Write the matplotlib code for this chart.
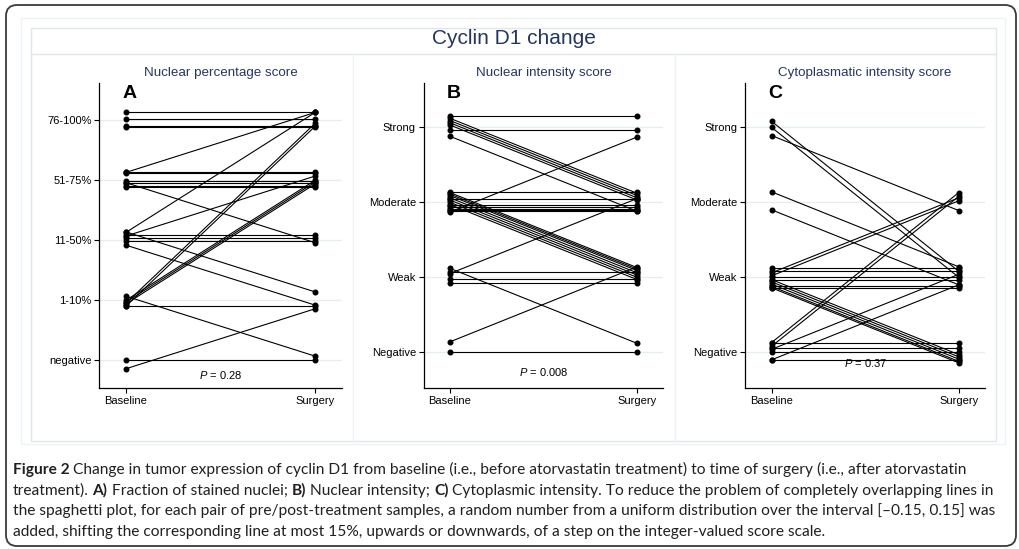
import matplotlib
matplotlib.use("Agg")
import matplotlib.pyplot as plt
from matplotlib import font_manager
from matplotlib.patches import FancyBboxPatch, Rectangle
from matplotlib.lines import Line2D
from matplotlib.transforms import IdentityTransform

# Cyclin D1 score pairs: baseline score, surgery score, jitter
a_base = [4, 4, 4, 4, 3, 3, 3, 3, 3, 3, 3, 3, 2, 2, 2, 2, 2, 2, 2, 1, 1, 1, 1, 1, 1, 1, 0, 0]
a_surg = [4, 4, 4, 4, 4, 3, 3, 3, 3, 3, 3, 2, 4, 3, 2, 2, 2, 1, 1, 4, 4, 3, 3, 3, 1, 0, 0, 1]
a_jit = [0.14, 0.02, -0.09, -0.11, 0.13, 0.14, 0.12, -0.01, -0.05, -0.09, -0.12, -0.04,
         0.13, 0.07, 0.09, 0.04, -0.01, 0.14, -0.08, -0.05, -0.10, 0.00, -0.03, -0.06,
         -0.10, 0.07, 0.00, -0.14]

b_base = [3, 3, 3, 3, 3, 3, 3, 2, 2, 2, 2, 2, 2, 2, 2, 2, 2, 2, 2, 2, 2, 2, 1, 1, 1, 1, 1, 0, 0]
b_surg = [3, 3, 2, 2, 2, 2, 2, 3, 2, 2, 2, 2, 2, 2, 2, 1, 1, 1, 1, 1, 1, 1, 2, 1, 1, 1, 0, 1, 0]
b_jit = [0.15, -0.03, 0.12, 0.09, 0.06, 0.03, -0.12, -0.13, 0.14, 0.04, -0.03, -0.06,
         -0.09, -0.10, -0.12, 0.13, 0.11, 0.09, 0.06, 0.03, 0.00, -0.03, 0.05, 0.07,
         -0.02, -0.08, 0.12, 0.14, 0.00]

c_base = [3, 3, 3, 2, 2, 1, 1, 1, 1, 1, 1, 1, 1, 1, 1, 1, 1, 1, 0, 0, 0, 0, 0, 0, 0, 0]
c_surg = [1, 1, 2, 1, 1, 2, 2, 0, 0, 0, 0, 0, 1, 1, 1, 1, 1, 1, 2, 2, 1, 1, 0, 0, 0, 0]
c_jit = [0.08, 0.00, -0.11, 0.14, -0.10, 0.06, 0.02, -0.03, -0.06, -0.09, -0.12, -0.14,
         0.12, 0.09, 0.00, -0.04, -0.12, -0.14, 0.13, 0.08, 0.04, -0.10, 0.13, 0.06,
         0.00, -0.10]

pct_labels = ["negative", "1-10%", "11-50%", "51-75%", "76-100%"]
int_labels = ["Negative", "Weak", "Moderate", "Strong"]
time_labels = ["Baseline", "Surgery"]
subtitles = ["Nuclear percentage score", "Nuclear intensity score", "Cytoplasmatic intensity score"]
letters = ["A", "B", "C"]
p_values = ["0.28", "0.008", "0.37"]

caption = [
    [("Figure 2", "bold"), ("Change in tumor expression of cyclin D1 from baseline (i.e., before atorvastatin "
                            "treatment) to time of surgery (i.e., after atorvastatin", "normal")],
    [("treatment).", "normal"), ("A)", "bold"), ("Fraction of stained nuclei;", "normal"), ("B)", "bold"),
     ("Nuclear intensity;", "normal"), ("C)", "bold"),
     ("Cytoplasmic intensity. To reduce the problem of completely overlapping lines in", "normal")],
    [("the spaghetti plot, for each pair of pre/post-treatment samples, a random number from a uniform "
      "distribution over the interval [\u20130.15, 0.15] was", "normal")],
    [("added, shifting the corresponding line at most 15%, upwards or downwards, of a step on the "
      "integer-valued score scale.", "normal")],
]

W, H = 1019, 549
plt.rcParams["font.family"] = ["Liberation Sans", "DejaVu Sans"]
plt.rcParams["mathtext.fontset"] = "custom"
plt.rcParams["mathtext.it"] = "Liberation Sans:italic"
plt.rcParams["mathtext.rm"] = "Liberation Sans"

# the caption uses a condensed face; take the narrow Liberation one when it is there
installed = {f.name for f in font_manager.fontManager.ttflist}
cap_font = ["Liberation Sans Narrow", "DejaVu Sans"] if "Liberation Sans Narrow" in installed else ["Lato", "DejaVu Sans"]

fig = plt.figure(figsize=(W / 100, H / 100), dpi=100)
fig.patch.set_facecolor("white")


def fx(x):
    return x / W


def fy(y):
    return 1 - y / H


def box(x0, y0, x1, y1, color, lw=1.0):
    fig.patches.append(Rectangle((fx(x0), fy(y1)), (x1 - x0) / W, (y1 - y0) / H,
                                 transform=fig.transFigure, fill=False, edgecolor=color, lw=lw))


# frame of the whole figure
fig.patches.append(FancyBboxPatch((6, H - 546), 1010, 541, boxstyle="round,pad=0,rounding_size=11",
                                  transform=IdentityTransform(), fill=False, edgecolor="#3a3a3a", lw=1.3))

# Stata graph region
box(21, 18, 1005, 444, "#eef4f5")
box(31, 28, 996, 441, "#dfe7ea")
fig.add_artist(Line2D([fx(31), fx(996)], [fy(54), fy(54)], color="#dfe7ea", lw=1.0))
for xv in [352.7, 675]:
    fig.add_artist(Line2D([fx(xv), fx(xv)], [fy(54), fy(441)], color="#eef4f5", lw=1.0))

title_color = "#24365f"
fig.text(fx(513.5), fy(39), "Cyclin D1 change", ha="center", va="center", fontsize=15, color=title_color)

panels = [
    (a_base, a_surg, a_jit, pct_labels, (99.3, 341.7, 83, 388), (-0.46, 4.62), 375),
    (b_base, b_surg, b_jit, int_labels, (423.7, 663.3, 83, 388), (-0.475, 3.59), 372),
    (c_base, c_surg, c_jit, int_labels, (745.3, 985, 83, 388), (-0.475, 3.59), 363),
]

for i, (base, surg, jit, ylabels, (l, r, t, b), ylim, p_y) in enumerate(panels):
    ax = fig.add_axes([fx(l), fy(b), (r - l) / W, (b - t) / H])
    ax.set_facecolor("none")
    for b0, s0, j in zip(base, surg, jit):
        ax.plot([0, 1], [b0 + j, s0 + j], color="black", lw=0.8, marker="o", ms=3.3, zorder=3)
    ax.set_xlim(-0.14, 1.14)
    ax.set_ylim(*ylim)
    ax.set_yticks(range(len(ylabels)))
    ax.set_yticklabels(ylabels, fontsize=8)
    ax.set_xticks([0, 1])
    ax.set_xticklabels(time_labels, fontsize=8)
    ax.tick_params(length=3.6, width=0.8, pad=2, color="black")
    ax.grid(axis="y", color="#e4eef0", lw=0.9, zorder=0)
    for sp in ["top", "right"]:
        ax.spines[sp].set_visible(False)
    for sp in ["left", "bottom"]:
        ax.spines[sp].set_linewidth(0.9)
    cx = (l + r) / 2
    fig.text(fx(cx), fy(73), subtitles[i], ha="center", va="center", fontsize=9.6, color=title_color)
    fig.text(fx(l + 23), fy(93), letters[i], ha="left", va="center", fontsize=14, fontweight="bold")
    fig.text(fx(cx), fy(p_y), "$P$ = " + p_values[i], ha="center", va="center", fontsize=8)

# caption, with bold runs placed after measuring
renderer = fig.canvas.get_renderer()
cap_color = "#231f20"


def text_width(s, size, weight):
    t = fig.text(0, 0, s, fontsize=size, fontweight=weight, family=cap_font)
    w = t.get_window_extent(renderer).width
    t.remove()
    return w


# fit the size so the third line spans the same width as in the figure
ref_line = caption[2][0][0]
cap_size = 10 * 986 / text_width(ref_line, 10, "normal")
space = text_width("a a", cap_size, "normal") - text_width("aa", cap_size, "normal")

baselines = [474, 495, 515.5, 536]
for runs, yb in zip(caption, baselines):
    x = 12.7
    for k, (s, wt) in enumerate(runs):
        if k > 0:
            x += space
        t = fig.text(fx(x), fy(yb), s, fontsize=cap_size, fontweight=wt, family=cap_font,
                     color=cap_color, va="baseline", ha="left")
        x += t.get_window_extent(renderer).width

fig.savefig("out.png", dpi=100, facecolor="white")
